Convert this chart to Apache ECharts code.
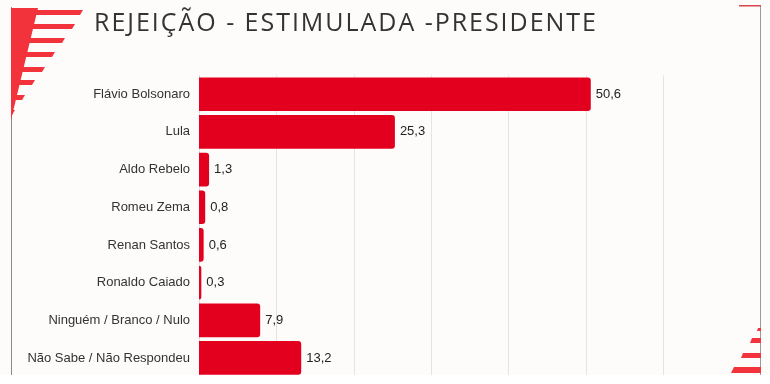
<!DOCTYPE html>
<html>
<head>
<meta charset="utf-8">
<script src="https://cdn.jsdelivr.net/npm/echarts@6/dist/echarts.min.js"></script>
<style>
html,body{margin:0;padding:0;background:#fdfcfb;}
#chart{width:770px;height:384px;}
</style>
</head>
<body>
<div id="chart"></div>
<script>
const titleText = 'REJEIÇÃO - ESTIMULADA -PRESIDENTE';
const categories = ['Flávio Bolsonaro','Lula','Aldo Rebelo','Romeu Zema','Renan Santos','Ronaldo Caiado','Ninguém / Branco / Nulo','Não Sabe / Não Respondeu'];
const values = [50.6, 25.3, 1.3, 0.8, 0.6, 0.3, 7.9, 13.2];

const RED = '#e3001f';
const STRIPE = '#f2333b';
const TITLE_FONT = 'normal 25px "Open Sans"';
const TITLE_WIDTH = 502;

function para(x1t, x2t, x1b, x2b, yt, yb) {
  return {type:'polygon', silent:true, z:50, shape:{points:[[x1t,yt],[x2t,yt],[x2b,yb],[x1b,yb]]}, style:{fill:STRIPE}};
}
const deco = [];
// top-left stripes
const tl = [[10,15,83],[24,29,75],[38,43,65],[52,57,55],[67,72,45],[80,85,35],[95,100,25],[110,115,15]];
tl.forEach(s => deco.push(para(11, s[2], 11, s[2]-3, s[0], s[1])));
deco.push({type:'polygon', silent:true, z:50, shape:{points:[[11,8],[38,8],[11,120]]}, style:{fill:STRIPE}});
// frame lines
deco.push({type:'line', silent:true, z:49, shape:{x1:11.5,y1:7,x2:11.5,y2:375}, style:{stroke:'#8a8a8a',lineWidth:1}});
deco.push({type:'line', silent:true, z:49, shape:{x1:760.5,y1:5,x2:760.5,y2:375}, style:{stroke:'#9a9a9a',lineWidth:1}});
deco.push({type:'rect', silent:true, z:50, shape:{x:739,y:5,width:22,height:1.5}, style:{fill:'#d9474c'}});
// bottom-right stripes
deco.push(para(758, 761, 757, 761, 328, 331));
deco.push(para(752, 761, 750, 761, 338, 343));
deco.push(para(743, 761, 741, 761, 353, 358));
deco.push(para(734, 761, 731, 761, 367, 373));
// bottom white cover
deco.push({type:'rect', silent:true, z:100, shape:{x:0,y:375,width:770,height:9}, style:{fill:'#ffffff'}});
// title (own layer so that letter spacing can be applied)
deco.push({type:'text', zlevel:1, z:60, left:94, top:11, style:{text:titleText, fill:'#333333', font:TITLE_FONT}});

const chart = echarts.init(document.getElementById('chart'), null, {renderer:'canvas'});
chart.setOption({
  backgroundColor:'#fdfcfb',
  animation:false,
  grid:{left:199, right:29, top:75.4, bottom:7.2, containLabel:false},
  xAxis:{
    type:'value', min:0, max:70, interval:10,
    axisLabel:{show:false}, axisTick:{show:false}, axisLine:{show:false},
    splitLine:{show:true, showMinLine:false, showMaxLine:false, lineStyle:{color:'#e4e4e4', width:1}}
  },
  yAxis:{
    type:'category', inverse:true, data:categories,
    axisTick:{show:false},
    axisLine:{show:true, lineStyle:{color:'#dcdcdc'}},
    axisLabel:{margin:9, color:'#333333', fontSize:13, fontFamily:'"Liberation Sans", Arial, sans-serif'}
  },
  series:[{
    type:'bar', data:values, barCategoryGap:'10.5%',
    itemStyle:{color:RED, borderRadius:[0,3,3,0]},
    label:{show:true, position:'right', distance:5, color:'#222222', fontSize:13, fontFamily:'"Liberation Sans", Arial, sans-serif',
      formatter:p => String(p.value).replace('.', ',')}
  }],
  graphic:deco
});

// letter spacing for the title layer
try {
  const mc = document.createElement('canvas').getContext('2d');
  mc.font = TITLE_FONT;
  const w = mc.measureText(titleText).width;
  const n = Array.from(titleText).length;
  const sp = Math.max(0, (TITLE_WIDTH - w) / (n - 1));
  const zr = chart.getZr();
  const layer = zr.painter.getLayer(1);
  if (layer && layer.ctx && ('letterSpacing' in layer.ctx)) {
    layer.ctx.letterSpacing = sp.toFixed(2) + 'px';
    zr.painter.refresh(true);
  }
} catch (e) {}
</script>
</body>
</html>
